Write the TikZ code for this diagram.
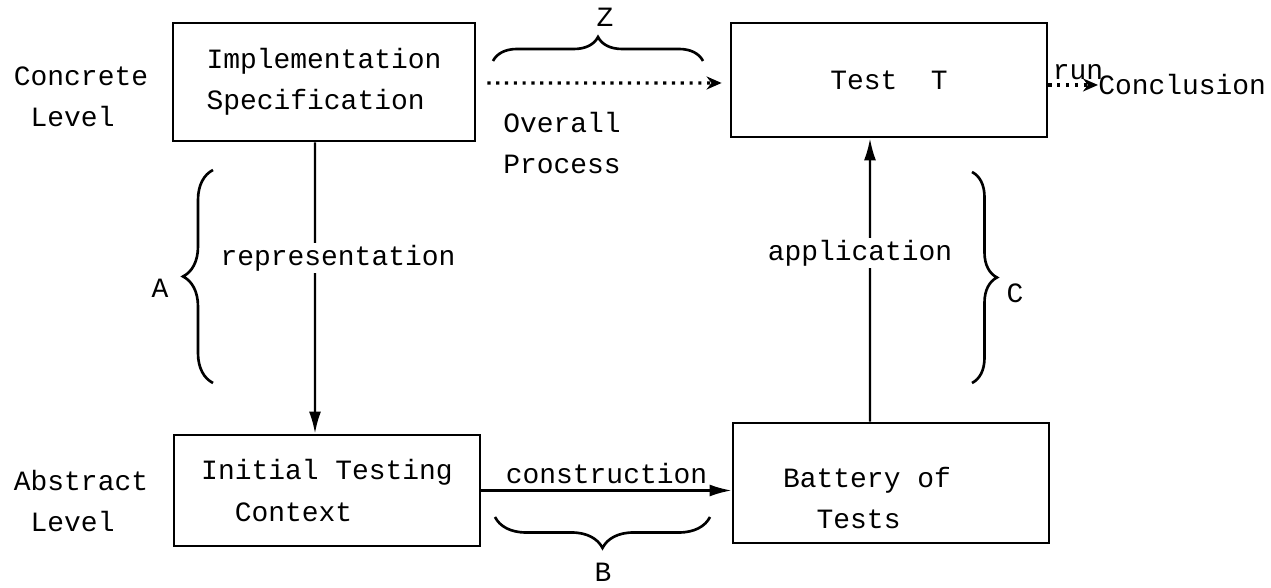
\documentclass[tikz,border=0pt]{standalone}
\usepackage{fontspec}
\setmonofont{Liberation Mono}
\usetikzlibrary{arrows.meta, positioning, decorations.pathreplacing}

\begin{document}
\begin{tikzpicture}[>={Latex[length=4.4mm, width=2.4mm]}, font=\ttfamily\fontsize{15.9}{23.5}\selectfont]
    \tikzset{box/.style={draw, line width=1.6pt},
        link/.style={->, line width=1.3pt},
        dots/.style={-{Stealth[length=3mm, width=2.6mm]}, line width=1.8pt, dash pattern=on 1.8pt off 3.2pt},
        curly/.style={draw, line width=1.5pt, decorate, decoration={brace, amplitude=#1}},
        tag/.style={align=left, inner sep=0pt}
    }
    \useasboundingbox (0,0) rectangle (25.42,11.76);

    % boxes
    \node (Impl) [box, minimum width=6.04cm, minimum height=2.36cm, align=left] at (6.48,10.12) {Implementation\\Specification};
    \node (Test) [box, minimum width=6.32cm, minimum height=2.28cm] at (17.78,10.16) {Test~~T};
    \node (Init) [box, minimum width=6.12cm, minimum height=2.22cm, align=left] at (6.54,1.95) {Initial Testing\\~~Context};
    \node (Battery) [box, minimum width=6.32cm, minimum height=2.4cm] at (17.82,2.10) {};
    \node (Battery-Text) [tag] at (17.34,1.80) {Battery of\\~~Tests};

    \foreach \lvl / \y in {Concrete/9.83, Abstract/1.74} {
        \node (\lvl-Level) [tag] at (1.62,\y) {\lvl\\~Level};
    }

    % links
    \draw [link] ([xshift=-0.18cm]Impl.south) -- ([xshift=-0.24cm]Init.north);
    \node (Rep) [fill=white, inner sep=1pt] at (6.76,6.6) {representation};
    \draw [link] ([xshift=-0.42cm]Battery.north) -- ([xshift=-0.38cm]Test.south);
    \node (App) [fill=white, inner sep=1pt] at (17.2,6.7) {application};
    \draw [link] (Init.east) -- node (Cons) [above] {construction} (Init.east -| Battery.west);

    \draw [dots, shorten <=0.22cm, shorten >=0.16cm] ([yshift=-0.02cm]Impl.east) -- ([yshift=-0.06cm]Test.west);
    \node (Overall) [tag] at (11.24,8.9) {Overall\\Process};
    \node (Conclusion) [anchor=west, inner sep=0pt] at (21.96,10.06) {Conclusion};
    \draw [dots] ([yshift=-0.1cm]Test.east) -- (Conclusion.west);
    \node (Run) [inner sep=0pt] at (21.56,10.32) {run};

    % braces
    \draw [curly=0.6cm] (4.26,4.1) -- (4.26,8.36);
    \node (A) at (3.2,6.0) {A};
    \draw [curly=0.5cm] (19.44,8.32) -- (19.44,4.1);
    \node (C) at (20.3,5.9) {C};
    \draw [curly=0.48cm] (9.86,10.54) -- (14.06,10.54);
    \node (Z) at (12.1,11.42) {Z};
    \draw [curly=0.62cm] (14.2,1.42) -- (9.9,1.42);
    \node (B) at (12.06,0.32) {B};
\end{tikzpicture}
\end{document}
